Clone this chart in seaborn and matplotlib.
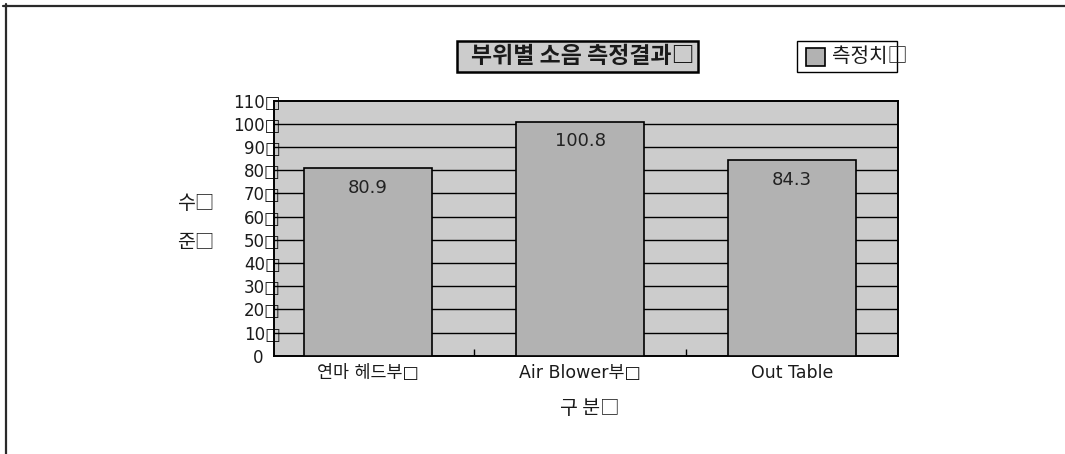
import matplotlib
matplotlib.use("Agg")
import matplotlib.pyplot as plt
from matplotlib.patches import Rectangle
from matplotlib.lines import Line2D
from matplotlib.transforms import ScaledTranslation
import seaborn as sns
import pandas as pd

# Data
categories = ["연마 헤드부□", "Air Blower부□", "Out Table"]
values = [80.9, 100.8, 84.3]
y_ticks = [0, 10, 20, 30, 40, 50, 60, 70, 80, 90, 100, 110]
y_tick_labels = ["0", "10□", "20□", "30□", "40□", "50□", "60□", "70□", "80□", "90□", "100□", "110□"]
title_text = "부위별 소음 측정결과□"
legend_label = "측정치□"
x_label = "구 분□"
y_label_lines = ["수□", "준□"]

sns.set_theme(style="white")
plt.rcParams["font.family"] = ["Noto Sans CJK KR", "DejaVu Sans"]
plt.rcParams["axes.unicode_minus"] = False
LATIN = ["DejaVu Sans", "Noto Sans CJK KR"]

W, H = 1065, 454
fig = plt.figure(figsize=(W / 100, H / 100), dpi=100)
fig.patch.set_facecolor("white")


def fx(x):
    return x / W


def fy(y):
    return 1 - y / H


PLOT_BG = "#cccccc"
BAR_COLOR = "#b2b2b2"
TEXT = "#1a1a1a"

ax = fig.add_axes([fx(273.7), fy(355.7), fx(898) - fx(273.7), fy(100.7) - fy(355.7)])
ax.set_facecolor(PLOT_BG)

df = pd.DataFrame({"category": categories, "value": values})
sns.barplot(data=df, x="category", y="value", color=BAR_COLOR, saturation=1,
            width=0.6, edgecolor="black", linewidth=1.2, ax=ax, zorder=3)

ax.set_xlim(-0.445, 2.5)
ax.set_ylim(0, 110)

# horizontal gridlines behind the bars
for t in y_ticks[1:-1]:
    ax.axhline(t, color="black", lw=1.0, zorder=1)

for s in ax.spines.values():
    s.set_color("black")
    s.set_linewidth(1.4)
    s.set_visible(True)

ax.set_yticks(y_ticks)
ax.set_yticklabels(y_tick_labels, fontsize=12, color=TEXT, family=LATIN)
ax.tick_params(axis="y", length=0, pad=-5)
# the zero label carries no trailing box, so nudge it left of the axis
zero_lbl = ax.get_yticklabels()[0]
zero_lbl.set_transform(zero_lbl.get_transform() + ScaledTranslation(-17 / 100, 0, fig.dpi_scale_trans))

ax.set_xticks(range(len(categories)))
ax.set_xticklabels(categories, fontsize=12.5, color=TEXT, family=LATIN)
ax.set_xticks([0.5, 1.5], minor=True)
ax.tick_params(axis="x", which="major", length=0, pad=6)
ax.tick_params(axis="x", which="minor", length=5, width=1.0, direction="in",
               color="black", bottom=True)
ax.set_xlabel("")
ax.set_ylabel("")

# value labels inside the bars
for i, v in enumerate(values):
    ax.annotate(f"{v:.1f}", xy=(i, v), xytext=(0, -14), textcoords="offset points",
                ha="center", va="center", fontsize=13, color="#222222", zorder=5,
                family=LATIN)

# title box
fig.add_artist(Rectangle((fx(457), fy(72)), fx(698) - fx(457), fy(41) - fy(72),
                         transform=fig.transFigure, facecolor=PLOT_BG,
                         edgecolor="black", linewidth=1.8))
fig.text(fx(471), fy(56.5), title_text, ha="left", va="center",
         fontsize=16.5, fontweight="bold", color=TEXT)

# legend box
fig.add_artist(Rectangle((fx(797), fy(72)), fx(897) - fx(797), fy(41) - fy(72),
                         transform=fig.transFigure, facecolor="white",
                         edgecolor="black", linewidth=1.0))
fig.add_artist(Rectangle((fx(806), fy(66)), fx(825) - fx(806), fy(48) - fy(66),
                         transform=fig.transFigure, facecolor=BAR_COLOR,
                         edgecolor="black", linewidth=1.2))
fig.text(fx(832), fy(56.5), legend_label, ha="left", va="center",
         fontsize=14.5, color=TEXT)

# axis titles
fig.text(fx(590), fy(409), x_label, ha="center", va="center",
         fontsize=14, fontweight="medium", color=TEXT)
fig.text(fx(196), fy(203), y_label_lines[0], ha="center", va="center",
         fontsize=14, fontweight="medium", color=TEXT)
fig.text(fx(196), fy(242), y_label_lines[1], ha="center", va="center",
         fontsize=14, fontweight="medium", color=TEXT)

# outer frame (top and left edges)
fig.add_artist(Line2D([fx(3), fx(W)], [fy(5.5), fy(5.5)], transform=fig.transFigure,
                      color="#2a2a2a", lw=1.6))
fig.add_artist(Line2D([fx(5.5), fx(5.5)], [fy(4), fy(H)], transform=fig.transFigure,
                      color="#2a2a2a", lw=1.6))

fig.savefig("out.png", dpi=100)
